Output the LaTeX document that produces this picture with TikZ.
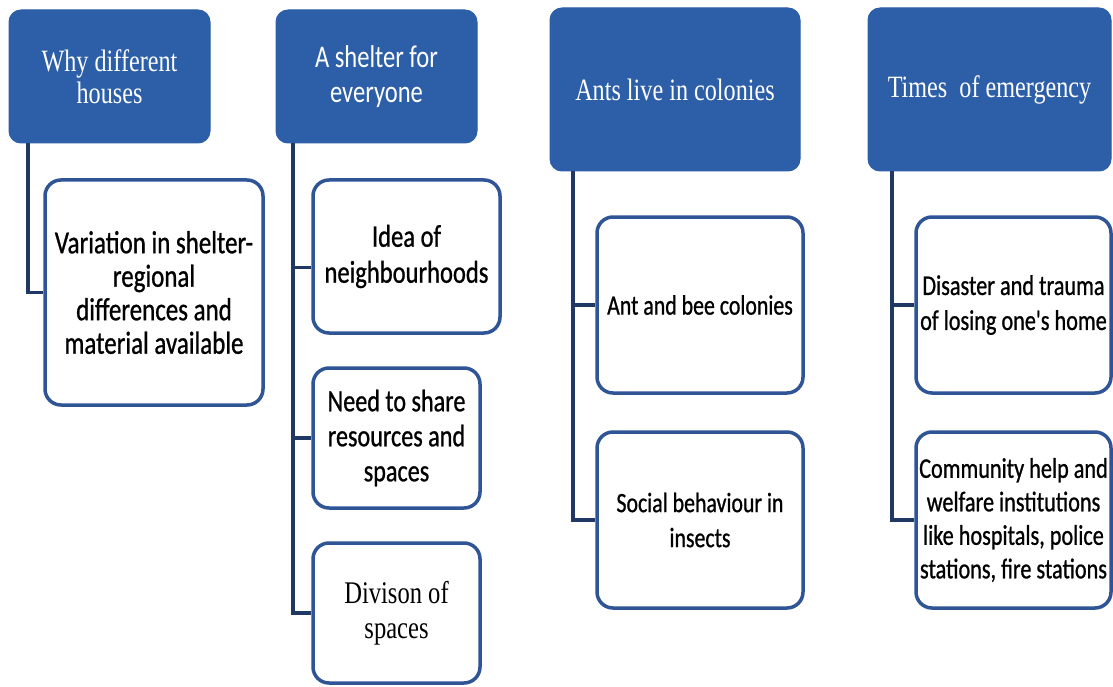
\documentclass[tikz,border=0pt]{standalone}
\usepackage{fontspec}
\newfontfamily\hser[FakeStretch=0.78]{Liberation Serif}
\newfontfamily\csans[FakeStretch=0.78,FakeBold=0.8]{Carlito}
\newfontfamily\hsans[FakeStretch=0.78]{Carlito}
\definecolor{hdrblue}{HTML}{2C5FA8}
\definecolor{bordblue}{HTML}{2F5597}
\definecolor{linkblue}{HTML}{1F3864}
\begin{document}
\begin{tikzpicture}[x=1pt,y=-1pt,
  hdr/.style={draw=hdrblue, fill=hdrblue, rounded corners=12pt, text=white, align=center, inner sep=0pt, line width=1pt},
  item/.style={draw=bordblue, fill=white, line width=3.5pt, rounded corners=16pt, align=center, inner sep=0pt, text=black},
  link/.style={draw=linkblue, line width=3.8pt},
  serifhead/.style={font=\hser\fontsize{31}{32}\selectfont},
  sanstxt/.style 2 args={font=\csans\fontsize{#1}{#2}\selectfont}]
\useasboundingbox[fill=white] (0,0) rectangle (1113,687);

% headers
\node[hdr, serifhead, minimum width=201pt, minimum height=133pt] (h1) at (109.5,76.5) {Why different\\houses};
\node[hdr, font=\hsans\fontsize{31.5}{35}\selectfont, minimum width=201pt, minimum height=133pt] (h2) at (376.5,76.5) {A shelter for\\everyone};
\node[hdr, serifhead, minimum width=250pt, minimum height=163pt] (h3) at (675,89.5) {Ants live in colonies};
\node[hdr, serifhead, minimum width=243pt, minimum height=163pt] (h4) at (989.5,89.5) {Times\ \ of emergency};

% children
\node[item, sanstxt={32}{33.5}, minimum width=218pt, minimum height=225pt] (c11) at (154,292.5) {Variation in shelter-\\regional\\differences and\\material available};
\node[item, sanstxt={31.5}{36}, minimum width=187pt, minimum height=153pt] (c21) at (406.5,256.5) {Idea of\\neighbourhoods};
\node[item, sanstxt={31}{35}, minimum width=167pt, minimum height=140pt] (c22) at (396.5,438) {Need to share\\resources and\\spaces};
\node[item, font=\hser\fontsize{31.5}{35}\selectfont, minimum width=167pt, minimum height=140pt] (c23) at (396.5,613) {Divison of\\spaces};
\node[item, sanstxt={28}{35}, minimum width=206pt, minimum height=176pt] (c31) at (700,305) {Ant and bee colonies};
\node[item, sanstxt={28}{35}, minimum width=206pt, minimum height=176pt] (c32) at (700,520) {Social behaviour in\\insects};
\node[item, sanstxt={28.5}{35}, minimum width=195pt, minimum height=176pt] (c41) at (1013.5,305) {Disaster and trauma\\of losing one's home};
\node[item, sanstxt={28.5}{33.5}, minimum width=195pt, minimum height=176pt] (c42) at (1013.5,520) {Community help and\\welfare institutions\\like hospitals, police\\stations, fire stations};

% trunk coordinates
\coordinate (t1) at (28,0);
\coordinate (t2) at (293,0);
\coordinate (t3) at (573,0);
\coordinate (t4) at (892,0);
\coordinate (b21) at ([yshift=-11pt]c21.west);

% connectors
\draw[link] (h1.south -| t1) |- (c11.west);

\draw[link] (h2.south -| t2) |- (c23.west);
\draw[link] (t2 |- c22.west) -- (c22.west);
\draw[link] (t2 |- b21) -- (b21);

\draw[link] (h3.south -| t3) |- (c32.west);
\draw[link] (t3 |- c31.west) -- (c31.west);

\draw[link] (h4.south -| t4) |- (c42.west);
\draw[link] (t4 |- c41.west) -- (c41.west);
\end{tikzpicture}
\end{document}
